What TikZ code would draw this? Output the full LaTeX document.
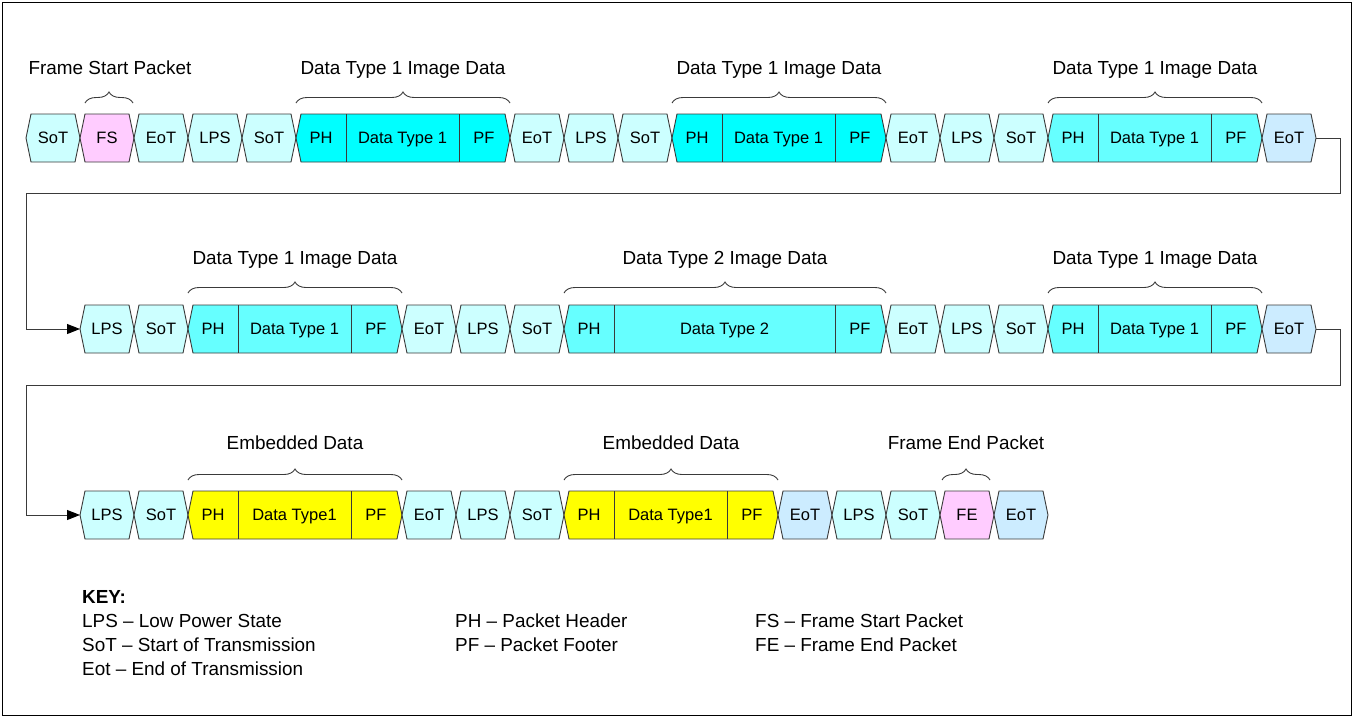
\documentclass[tikz,border=0pt]{standalone}
\usepackage{fontspec}
\setmainfont{Liberation Sans}
\usetikzlibrary{arrows.meta,decorations.pathreplacing}

\definecolor{edge}{HTML}{3A3A3A}
\definecolor{stateFill}{HTML}{CCFFFF}
\definecolor{endFill}{HTML}{CCECFF}
\definecolor{frameFill}{HTML}{FFCCFF}
\definecolor{dataA}{HTML}{00FFFF}
\definecolor{dataB}{HTML}{66FFFF}
\definecolor{embFill}{HTML}{FFFF00}

\tikzset{
  cellline/.style={draw=edge, line width=0.9pt, line join=miter},
  celltext/.style={font=\fontsize{16.5}{18}\selectfont, inner sep=0pt, text height=11.8pt, text depth=0pt},
  grouplabel/.style={font=\fontsize{18.9}{22}\selectfont, inner sep=0pt, text height=13.5pt, text depth=0pt},
  keytext/.style={grouplabel, anchor=west},
  grpbrace/.style={draw=edge, line width=0.9pt, decorate, decoration={brace, amplitude=11pt}},
  flow/.style={draw=edge, line width=1pt, -{Triangle[length=13pt,width=10pt,color=black]}},
}

% one hexagonal bus-state cell: name, left tip, right tip, mid y, fill, text
\newcommand\hexcell[6]{%
  \filldraw[cellline, fill=#5] (#2,#4) -- (#2+5,#4-24) -- (#3-5,#4-24) -- (#3,#4)
    -- (#3-5,#4+24) -- (#2+5,#4+24) -- cycle;
  \node[celltext] (#1) at ({(#2+#3)/2},#4) {#6};
  \coordinate (#1-w) at (#2,#4);
  \coordinate (#1-e) at (#3,#4);
}
% one long packet: header, payload, footer
\newcommand\packet[6]{%
  \filldraw[cellline, fill=#5] (#2,#4) -- (#2+5,#4-24) -- (#3-5,#4-24) -- (#3,#4)
    -- (#3-5,#4+24) -- (#2+5,#4+24) -- cycle;
  \draw[cellline] (#2+50,#4-24) -- (#2+50,#4+24);
  \draw[cellline] (#3-51,#4-24) -- (#3-51,#4+24);
  \node[celltext] (#1-ph) at ({#2+25},#4) {PH};
  \node[celltext] (#1-dt) at ({(#2+#3-1)/2},#4) {#6};
  \node[celltext] (#1-pf) at ({#3-26},#4) {PF};
  \coordinate (#1-w) at (#2,#4);
  \coordinate (#1-e) at (#3,#4);
}

\begin{document}
\begin{tikzpicture}[x=1pt,y=-1pt]
\useasboundingbox (0,0) rectangle (1354,718);
\draw[black, line width=1.6pt] (2.5,2.5) rectangle (1351.5,715.5);

% ---------- row 1 ----------
\hexcell{a1}{26}{80}{138}{stateFill}{SoT}
\hexcell{a2}{80}{134}{138}{frameFill}{FS}
\hexcell{a3}{134}{188}{138}{stateFill}{EoT}
\hexcell{a4}{188}{242}{138}{stateFill}{LPS}
\hexcell{a5}{242}{296}{138}{stateFill}{SoT}
\packet{a6}{296}{510}{138}{dataA}{Data Type 1}
\hexcell{a7}{510}{564}{138}{stateFill}{EoT}
\hexcell{a8}{564}{618}{138}{stateFill}{LPS}
\hexcell{a9}{618}{672}{138}{stateFill}{SoT}
\packet{a10}{672}{886}{138}{dataA}{Data Type 1}
\hexcell{a11}{886}{940}{138}{stateFill}{EoT}
\hexcell{a12}{940}{994}{138}{stateFill}{LPS}
\hexcell{a13}{994}{1048}{138}{stateFill}{SoT}
\packet{a14}{1048}{1262}{138}{dataB}{Data Type 1}
\hexcell{a15}{1262}{1316}{138}{endFill}{EoT}

\node[grouplabel] (la1) at (110,68) {Frame Start Packet};
\node[grouplabel] (la2) at (403,68) {Data Type 1 Image Data};
\node[grouplabel] (la3) at (779,68) {Data Type 1 Image Data};
\node[grouplabel] (la4) at (1155,68) {Data Type 1 Image Data};
\draw[grpbrace] (85,103) -- (133,103);
\draw[grpbrace] (296,103) -- (510,103);
\draw[grpbrace] (672,103) -- (886,103);
\draw[grpbrace] (1048,103) -- (1262,103);

% ---------- row 2 ----------
\hexcell{b1}{80}{134}{329}{stateFill}{LPS}
\hexcell{b2}{134}{188}{329}{stateFill}{SoT}
\packet{b3}{188}{402}{329}{dataB}{Data Type 1}
\hexcell{b4}{402}{456}{329}{stateFill}{EoT}
\hexcell{b5}{456}{510}{329}{stateFill}{LPS}
\hexcell{b6}{510}{564}{329}{stateFill}{SoT}
\packet{b7}{564}{886}{329}{dataB}{Data Type 2}
\hexcell{b8}{886}{940}{329}{stateFill}{EoT}
\hexcell{b9}{940}{994}{329}{stateFill}{LPS}
\hexcell{b10}{994}{1048}{329}{stateFill}{SoT}
\packet{b11}{1048}{1262}{329}{dataB}{Data Type 1}
\hexcell{b12}{1262}{1316}{329}{endFill}{EoT}

\node[grouplabel] (lb1) at (295,258) {Data Type 1 Image Data};
\node[grouplabel] (lb2) at (725,258) {Data Type 2 Image Data};
\node[grouplabel] (lb3) at (1155,258) {Data Type 1 Image Data};
\draw[grpbrace] (188,293) -- (402,293);
\draw[grpbrace] (564,293) -- (886,293);
\draw[grpbrace] (1048,293) -- (1262,293);

% ---------- row 3 ----------
\hexcell{c1}{80}{134}{515}{stateFill}{LPS}
\hexcell{c2}{134}{188}{515}{stateFill}{SoT}
\packet{c3}{188}{402}{515}{embFill}{Data Type1}
\hexcell{c4}{402}{456}{515}{stateFill}{EoT}
\hexcell{c5}{456}{510}{515}{stateFill}{LPS}
\hexcell{c6}{510}{564}{515}{stateFill}{SoT}
\packet{c7}{564}{778}{515}{embFill}{Data Type1}
\hexcell{c8}{778}{832}{515}{endFill}{EoT}
\hexcell{c9}{832}{886}{515}{stateFill}{LPS}
\hexcell{c10}{886}{940}{515}{stateFill}{SoT}
\hexcell{c11}{940}{994}{515}{frameFill}{FE}
\hexcell{c12}{994}{1048}{515}{endFill}{EoT}

\node[grouplabel] (lc1) at (295,443) {Embedded Data};
\node[grouplabel] (lc2) at (671,443) {Embedded Data};
\node[grouplabel] (lc3) at (966,443) {Frame End Packet};
\draw[grpbrace] (188,480) -- (402,480);
\draw[grpbrace] (564,480) -- (778,480);
\draw[grpbrace] (942,480) -- (990,480);

% ---------- line wrap connectors ----------
\coordinate (wrapA1) at (1340,193);
\coordinate (wrapA2) at (26,193);
\coordinate (wrapB1) at (1340,385);
\coordinate (wrapB2) at (26,385);
\draw[flow] (a15-e) -| (wrapA1) -- (wrapA2) |- (b1-w);
\draw[flow] (b12-e) -| (wrapB1) -- (wrapB2) |- (c1-w);

% ---------- key ----------
\node[keytext, font=\fontsize{18.9}{22}\selectfont\bfseries] (key) at (82,597) {KEY:};
\node[keytext] (k1) at (82,621) {LPS – Low Power State};
\node[keytext] (k2) at (82,645) {SoT – Start of Transmission};
\node[keytext] (k3) at (82,669) {Eot – End of Transmission};
\node[keytext] (k4) at (455,621) {PH – Packet Header};
\node[keytext] (k5) at (455,645) {PF – Packet Footer};
\node[keytext] (k6) at (755,621) {FS – Frame Start Packet};
\node[keytext] (k7) at (755,645) {FE – Frame End Packet};
\end{tikzpicture}
\end{document}
